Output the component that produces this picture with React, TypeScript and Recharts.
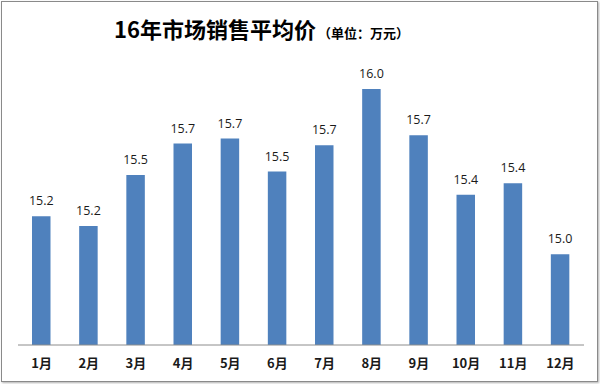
import React from "react";
import { BarChart, Bar, XAxis, YAxis, LabelList } from "recharts";

const months = ["1月", "2月", "3月", "4月", "5月", "6月", "7月", "8月", "9月", "10月", "11月", "12月"];
const prices = [15.23, 15.17, 15.48, 15.67, 15.7, 15.5, 15.66, 16.0, 15.72, 15.36, 15.43, 15.0];
const yDomain = [14.45, 16.1];

const data = months.map((m, i) => ({ month: m, price: prices[i] }));

export default function App() {
  return (
    <div style={{ position: "absolute", left: 0, top: 0, width: 600, height: 384, background: "#fff" }}>
      <div
        style={{
          position: "absolute",
          left: 1,
          top: 1,
          width: 595,
          height: 379,
          border: "1px solid #8a8a8a",
          boxShadow: "1px 1px 2px #b0b0b0",
        }}
      />
      <div
        style={{
          position: "absolute",
          left: 114,
          top: 12,
          whiteSpace: "nowrap",
          fontFamily: "'Noto Sans CJK SC', sans-serif",
          color: "#000",
        }}
      >
        <span style={{ fontSize: 22, fontWeight: "bold" }}>16年市场销售平均价</span>
        <span style={{ fontSize: 13, fontWeight: "bold", marginLeft: 2 }}>（单位：万元）</span>
      </div>
      <div style={{ position: "absolute", left: 0, top: 0 }}>
        <BarChart
          width={600}
          height={384}
          data={data}
          margin={{ top: 72.5, right: 16, bottom: 9, left: 18 }}
        >
          <XAxis
            dataKey="month"
            height={30}
            tickLine={false}
            axisLine={{ stroke: "#8c8c8c", strokeWidth: 1 }}
            tick={{
              fill: "#1a1a1a",
              fontSize: 13,
              fontWeight: "bold",
              fontFamily: "'Noto Sans CJK SC', sans-serif",
            }}
            tickMargin={8}
            interval={0}
          />
          <YAxis hide domain={yDomain} allowDataOverflow />
          <Bar dataKey="price" fill="#4F81BD" barSize={18.5} isAnimationActive={false}>
            <LabelList
              dataKey="price"
              position="top"
              offset={11}
              formatter={(v: number) => v.toFixed(1)}
              style={{ fill: "#1a1a1a", fontSize: 12.5, fontFamily: "'Open Sans', sans-serif" }}
            />
          </Bar>
        </BarChart>
      </div>
    </div>
  );
}
